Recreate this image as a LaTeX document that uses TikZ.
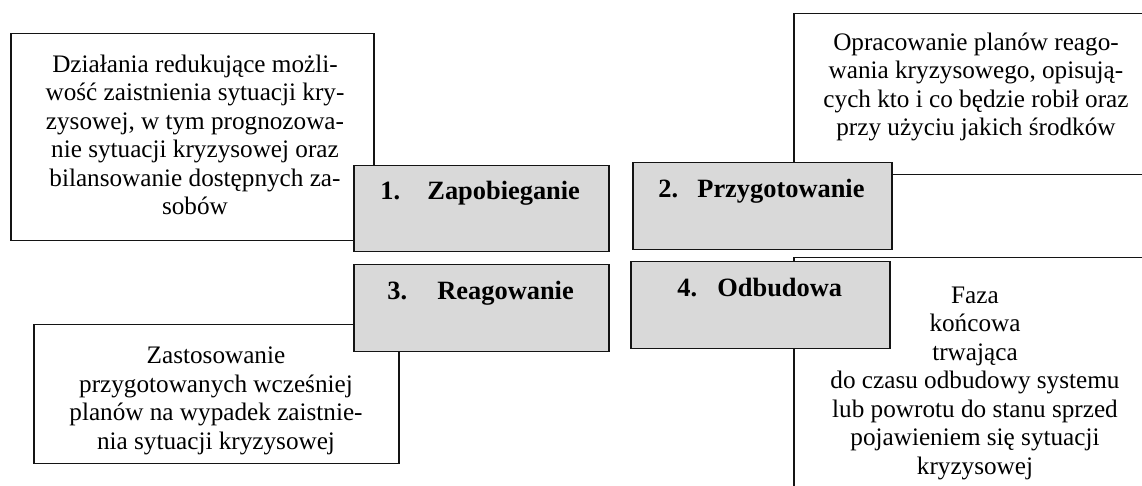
\documentclass[tikz,border=0pt]{standalone}
\usepackage{fontspec}
\setmainfont{Liberation Serif}
\definecolor{boxgrey}{RGB}{217,217,217}
\definecolor{edge}{RGB}{20,20,20}
\tikzset{
  whitebox/.style={draw=edge, fill=white, line width=0.75pt, anchor=north west, inner sep=0pt},
  greybox/.style={draw=edge, fill=boxgrey, line width=0.75pt, anchor=north west, inner sep=0pt},
  desc/.style={align=center, inner sep=0pt, font=\fontsize{12.6}{14.25}\selectfont},
  phase/.style={anchor=base west, inner sep=0pt, font=\fontsize{13.2}{14.25}\selectfont\bfseries}
}
\begin{document}
\begin{tikzpicture}[x=0.5pt, y=-0.5pt]
\clip (0,0) rectangle (1142,486);
\fill[white] (0,0) rectangle (1142,486);

% description boxes (behind the phase boxes)
\node[whitebox, minimum width=181.5pt, minimum height=103.5pt] (w1) at (10,33) {};
\node[whitebox, minimum width=186pt, minimum height=80.5pt] (w2) at (793,13) {};
\node[whitebox, minimum width=182.5pt, minimum height=69.5pt] (w3) at (33,324) {};
\node[whitebox, minimum width=186pt, minimum height=131.5pt] (w4) at (793,257) {};

% phase boxes
\node[greybox, minimum width=127.5pt, minimum height=43pt] (g1) at (353,165) {};
\node[greybox, minimum width=129.5pt, minimum height=43.5pt] (g2) at (632,162) {};
\node[greybox, minimum width=127.5pt, minimum height=43.5pt] (g3) at (353,264) {};
\node[greybox, minimum width=129.5pt, minimum height=43.5pt] (g4) at (630,261) {};

% phase titles
\node[phase] (l1) at (380,200) {\makebox[23.5pt][l]{1.}Zapobieganie};
\node[phase] (l2) at (658,198) {\makebox[19.5pt][l]{2.}Przygotowanie};
\node[phase] (l3) at (387,300) {\makebox[25pt][l]{3.}Reagowanie};
\node[phase] (l4) at (677,297) {\makebox[20pt][l]{4.}Odbudowa};

% descriptions
\node[desc] (t1) at (195,135) {Działania redukujące możli-\\wość zaistnienia sytuacji kry-\\zysowej, w tym prognozowa-\\nie sytuacji kryzysowej oraz\\bilansowanie dostępnych za-\\sobów};
\node[desc] (t2) at (976,87) {Opracowanie planów reago-\\wania kryzysowego, opisują-\\cych kto i co będzie robił oraz\\przy użyciu jakich środków};
\node[desc] (t3) at (216,401) {Zastosowanie\\ przygotowanych wcześniej\\planów na wypadek zaistnie-\\nia sytuacji kryzysowej};
\node[desc] (t4) at (975,383) {Faza\\końcowa\\trwająca\\do czasu odbudowy systemu\\lub powrotu do stanu sprzed\\pojawieniem się sytuacji\\kryzysowej};
\end{tikzpicture}
\end{document}
